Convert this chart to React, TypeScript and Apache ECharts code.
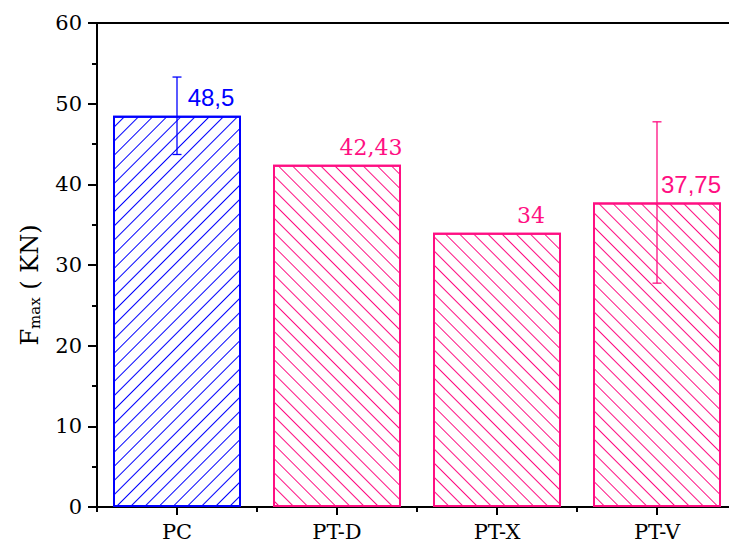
import React, { useEffect, useRef } from "react";
import * as echarts from "echarts";

const categories = ["PC", "PT-D", "PT-X", "PT-V"];
const values = [48.5, 42.43, 34, 37.75];
const errors = [4.8, 0, 0, 10];
const yTicks = [0, 10, 20, 30, 40, 50, 60];

const BLUE = "#0000ff";
const PINK = "#ff0f82";
const barColors = [BLUE, PINK, PINK, PINK];
const hatchRot = [-Math.PI / 4, Math.PI / 4, Math.PI / 4, Math.PI / 4];
const labelFonts = ["Liberation Sans", "DejaVu Serif", "DejaVu Serif", "Liberation Sans"];
const labelSizes = [24, 22, 22, 24];

export default function App() {
  const ref = useRef<HTMLDivElement>(null);
  useEffect(() => {
    if (!ref.current) return;
    const chart = echarts.init(ref.current, null, { renderer: "svg" });
    const barData = values.map((v, i) => ({
      value: v,
      itemStyle: {
        color: "#ffffff",
        borderColor: barColors[i],
        borderWidth: 2,
        decal: {
          symbol: "rect",
          symbolSize: 1,
          dashArrayX: [1, 0],
          dashArrayY: [1, 8.4],
          rotation: hatchRot[i],
          color: barColors[i],
        },
      },
      label: {
        show: true,
        position: "top",
        distance: 6,
        offset: [34, 0],
        color: barColors[i],
        fontFamily: labelFonts[i],
        fontSize: labelSizes[i],
        formatter: () => String(v).replace(".", ","),
      },
    }));
    const errData = values
      .map((v, i) => [i, v - errors[i], v + errors[i], errors[i]])
      .filter((d) => d[3] > 0);

    chart.setOption({
      animation: false,
      grid: { left: 97, right: 0, top: 23, bottom: 40 },
      xAxis: [
        {
          type: "category",
          data: categories,
          position: "bottom",
          axisLine: { show: true, lineStyle: { color: "#000", width: 2 } },
          axisTick: { show: true, alignWithLabel: true, length: 8, lineStyle: { color: "#000", width: 2 } },
          axisLabel: { color: "#000", fontFamily: "DejaVu Serif", fontSize: 21, margin: 14 },
          splitLine: { show: false },
        },
        {
          type: "category",
          data: categories,
          position: "bottom",
          axisLine: { show: false },
          axisTick: { show: true, length: 5, lineStyle: { color: "#000", width: 2 } },
          axisLabel: { show: false },
          splitLine: { show: false },
        },
        {
          type: "category",
          data: categories,
          position: "top",
          axisLine: { show: true, lineStyle: { color: "#000", width: 2 } },
          axisTick: { show: false },
          axisLabel: { show: false },
          splitLine: { show: false },
        },
      ],
      yAxis: {
        type: "value",
        min: yTicks[0],
        max: yTicks[yTicks.length - 1],
        interval: 10,
        axisLine: { show: true, lineStyle: { color: "#000", width: 2 } },
        axisTick: { show: true, length: 9, lineStyle: { color: "#000", width: 2 } },
        minorTick: { show: true, splitNumber: 2, length: 5, lineStyle: { color: "#000", width: 2 } },
        axisLabel: { color: "#000", fontFamily: "DejaVu Serif", fontSize: 21, margin: 15 },
        splitLine: { show: false },
      },
      graphic: [
        {
          type: "text",
          x: 27,
          y: 285,
          rotation: Math.PI / 2,
          style: {
            text: "{a|F}{b|max}{a| ( KN)}",
            align: "center",
            verticalAlign: "middle",
            fill: "#000",
            rich: {
              a: { fontFamily: "DejaVu Serif", fontSize: 24, lineHeight: 30, verticalAlign: "bottom", fill: "#000" },
              b: { fontFamily: "DejaVu Serif", fontSize: 15, lineHeight: 16, verticalAlign: "bottom", fill: "#000", padding: [12, 0, 0, 0] },
            },
          },
        },
      ],
      series: [
        {
          type: "bar",
          xAxisIndex: 0,
          barWidth: "80%",
          data: barData,
          z: 2,
        },
        {
          type: "custom",
          xAxisIndex: 0,
          z: 5,
          data: errData,
          renderItem: (params: any, api: any) => {
            const i = api.value(0);
            const lo = api.coord([i, api.value(1)]);
            const hi = api.coord([i, api.value(2)]);
            const color = barColors[i];
            const cw = 4.5;
            const style = { stroke: color, lineWidth: 1.3 };
            return {
              type: "group",
              children: [
                { type: "line", shape: { x1: lo[0], y1: lo[1], x2: hi[0], y2: hi[1] }, style },
                { type: "line", shape: { x1: hi[0] - cw, y1: hi[1], x2: hi[0] + cw, y2: hi[1] }, style },
                { type: "line", shape: { x1: lo[0] - cw, y1: lo[1], x2: lo[0] + cw, y2: lo[1] }, style },
              ],
            };
          },
        },
      ],
    });
    return () => chart.dispose();
  }, []);
  return (
    <div style={{ position: "absolute", left: 0, top: 0, width: 729, height: 547, overflow: "hidden" }}>
      <div ref={ref} style={{ width: 737, height: 547 }} />
    </div>
  );
}
